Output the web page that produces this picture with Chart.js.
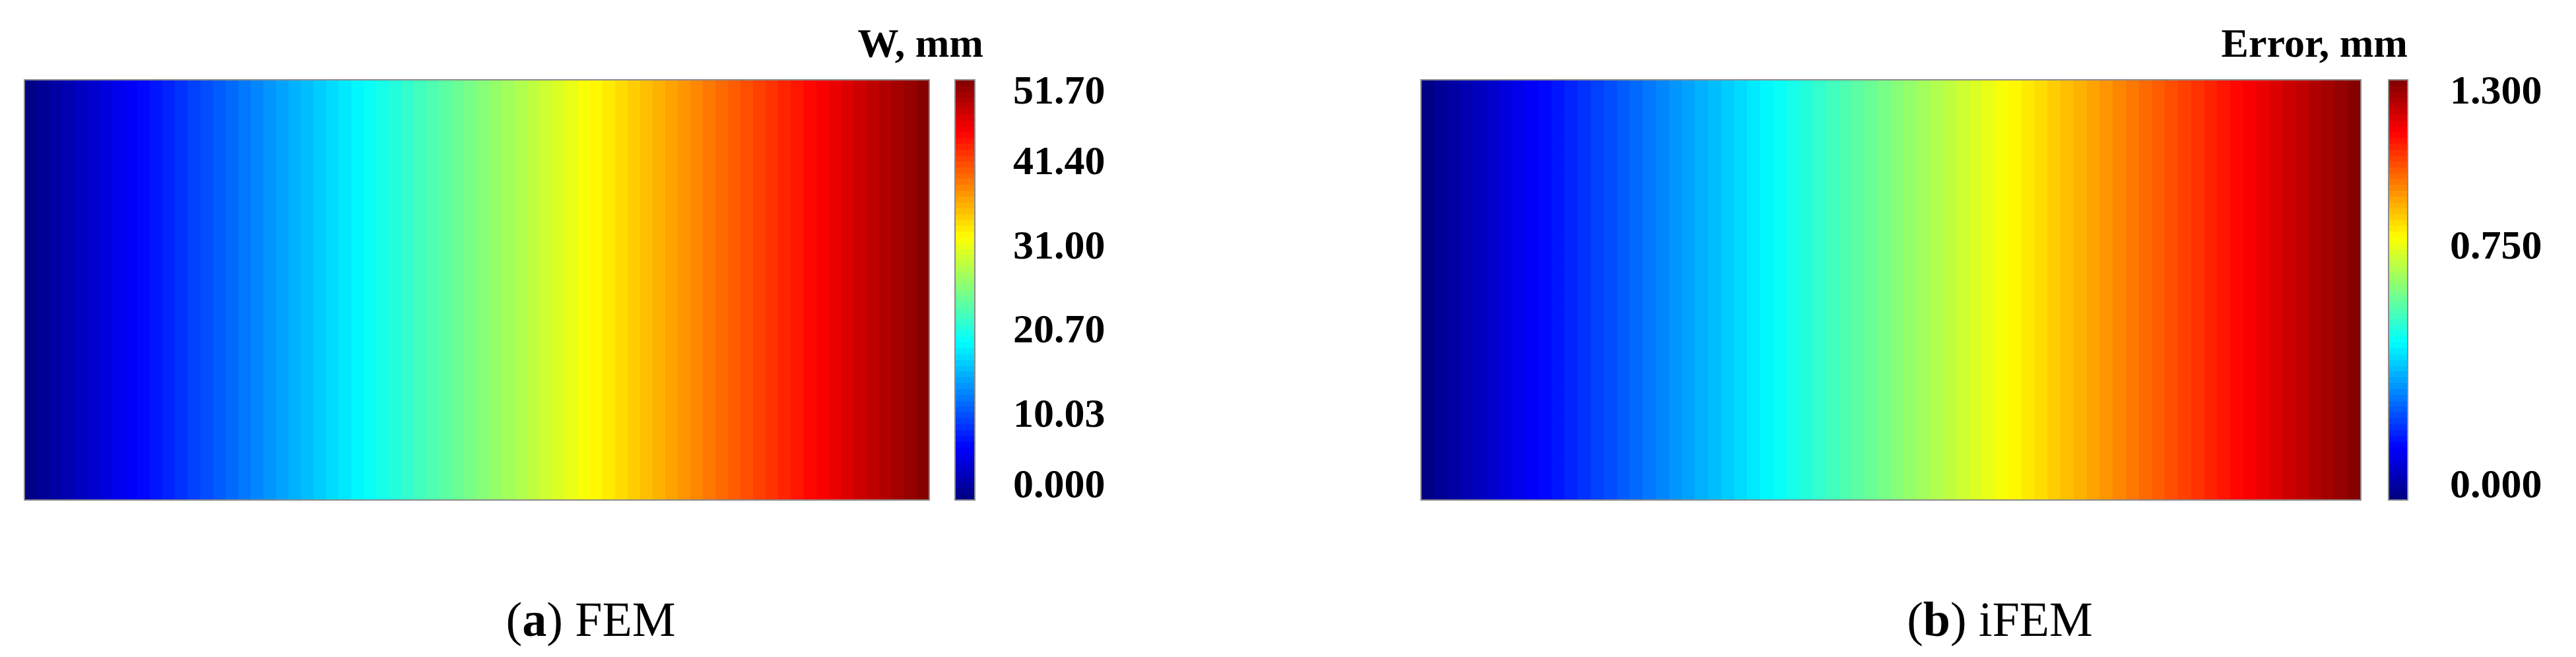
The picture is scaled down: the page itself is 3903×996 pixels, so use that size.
<!DOCTYPE html>
<html>
<head>
<meta charset="utf-8">
<script src="https://cdn.jsdelivr.net/npm/chart.js@4.4.1/dist/chart.umd.min.js"></script>
<style>
  body { margin:0; background:#fff; width:3903px; height:996px; position:relative; overflow:hidden;
         font-family:"Liberation Serif","Times New Roman",serif; }
  canvas, .txt { position:absolute; }
  .ttl { font-weight:bold; font-size:62px; line-height:62px; white-space:nowrap; }
  .cap { font-size:74px; line-height:74px; white-space:nowrap; transform:translateX(-50%); }
</style>
</head>
<body>
<canvas id="plotA" width="1375" height="641" style="left:35px;top:119px"></canvas>
<canvas id="cbarA" width="299" height="857" style="left:1438px;top:11px"></canvas>
<canvas id="plotB" width="1428" height="641" style="left:2151px;top:119px"></canvas>
<canvas id="cbarB" width="298" height="857" style="left:3610px;top:11px"></canvas>

<div class="txt ttl" id="ttlA" style="right:calc(3903px - 1490px);top:34px"></div>
<div class="txt ttl" id="ttlB" style="right:calc(3903px - 3648px);top:34px"></div>
<div class="txt cap" id="capA" style="left:895px;top:902px"></div>
<div class="txt cap" id="capB" style="left:3030px;top:902px"></div>

<script>
// datos
const plateX = [0, 1];               // posicion a lo largo de la placa (normalizada)
const wFEM = [0, 51.70];             // W, mm en los extremos
const errIFEM = [0, 1.300];          // error, mm en los extremos
const levels = [0, 1, 2, 3, 4, 5];   // divisiones de la barra de color
const tickLevels = [1, 2, 3, 4];
const labelsW = ['0.000', '10.03', '20.70', '31.00', '41.40', '51.70'];
const labelsErr = ['0.000', '', '', '0.750', '', '1.300'];
const cbarTitles = ['W, mm', 'Error, mm'];
const captionTags = ['a', 'b'];
const captionNames = ['FEM', 'iFEM'];

const FONT = '"Liberation Serif", "Times New Roman", serif';
const NBANDS = 72;

document.getElementById('ttlA').textContent = cbarTitles[0];
document.getElementById('ttlB').textContent = cbarTitles[1];
['capA', 'capB'].forEach((id, i) => {
  const el = document.getElementById(id);
  el.innerHTML = '(<b>' + captionTags[i] + '</b>) ' + captionNames[i];
});

// jet colormap
function clamp(v) { return Math.max(0, Math.min(1, v)); }
function jet(t) {
  const r = clamp(Math.min(4*t - 1.5, -4*t + 4.5));
  const g = clamp(Math.min(4*t - 0.5, -4*t + 3.5));
  const b = clamp(Math.min(4*t + 0.5, -4*t + 2.5));
  return 'rgb(' + Math.round(r*255) + ',' + Math.round(g*255) + ',' + Math.round(b*255) + ')';
}
function interp(xs, ys, x) {
  for (let i = 1; i < xs.length; i++) {
    if (x <= xs[i]) {
      const f = (x - xs[i-1]) / (xs[i] - xs[i-1]);
      return ys[i-1] + f * (ys[i] - ys[i-1]);
    }
  }
  return ys[ys.length - 1];
}

// degradado por bandas (como un contorno)
function bandGradient(ctx, x0, y0, x1, y1, colorAt) {
  const g = ctx.createLinearGradient(x0, y0, x1, y1);
  for (let i = 0; i < NBANDS; i++) {
    const c = colorAt((i + 0.5) / NBANDS);
    g.addColorStop(i / NBANDS, c);
    g.addColorStop(Math.min(1, (i + 1) / NBANDS - 0.0001), c);
  }
  return g;
}

const framePlugin = {
  id: 'frame',
  afterDatasetsDraw(chart) {
    const a = chart.chartArea, ctx = chart.ctx;
    ctx.save();
    ctx.strokeStyle = '#8c8c8c';
    ctx.lineWidth = 2;
    ctx.strokeRect(a.left, a.top, a.right - a.left, a.bottom - a.top);
    ctx.restore();
  }
};

function drawField(id, values) {
  const vmax = values[values.length - 1];
  new Chart(document.getElementById(id), {
    type: 'line',
    data: {
      datasets: [{
        data: plateX.map(x => ({x: x, y: 1})),
        fill: 'origin',
        borderWidth: 0,
        pointRadius: 0,
        backgroundColor: (c) => {
          const a = c.chart.chartArea;
          if (!a) return 'rgba(0,0,0,0)';
          return bandGradient(c.chart.ctx, a.left, 0, a.right, 0,
            t => jet(interp(plateX, values, t) / vmax));
        }
      }]
    },
    options: {
      responsive: false,
      animation: false,
      layout: { padding: 2 },
      plugins: { legend: { display: false }, tooltip: { enabled: false } },
      scales: {
        x: { type: 'linear', display: false, min: 0, max: 1 },
        y: { display: false, min: 0, max: 1 }
      }
    },
    plugins: [framePlugin]
  });
}

function drawColorbar(id, labels, pad) {
  const top = levels[levels.length - 1];
  new Chart(document.getElementById(id), {
    type: 'line',
    data: {
      datasets: [{
        data: [{x: 0, y: top}, {x: 1, y: top}],
        fill: 'origin',
        borderWidth: 0,
        pointRadius: 0,
        backgroundColor: (c) => {
          const a = c.chart.chartArea;
          if (!a) return 'rgba(0,0,0,0)';
          return bandGradient(c.chart.ctx, 0, a.bottom, 0, a.top, t => jet(t));
        }
      }, {
        // marcas de las divisiones
        data: tickLevels.map(v => ({x: 1, y: v})),
        showLine: false,
        pointStyle: 'line',
        pointRadius: 7,
        pointBorderWidth: 2,
        pointBorderColor: '#222',
        clip: 0
      }]
    },
    options: {
      responsive: false,
      animation: false,
      layout: { padding: { left: 2, right: 0, top: 110, bottom: 110 } },
      plugins: { legend: { display: false }, tooltip: { enabled: false } },
      scales: {
        x: { type: 'linear', display: false, min: 0, max: 1 },
        y: {
          position: 'right',
          min: 0, max: top,
          afterBuildTicks: (s) => { s.ticks = levels.map(v => ({value: v})); },
          afterFit: (s) => { s.width = 260; },
          grid: { display: false, drawTicks: false },
          border: { display: false },
          ticks: {
            padding: pad,
            color: '#000',
            font: { family: FONT, size: 62, weight: 'bold', lineHeight: '40px' },
            callback: (v, i) => {
              const t = labels[i];
              if (i === levels.length - 1) return ['', t];
              if (i === 0) return [t, ''];
              return t;
            }
          }
        }
      }
    },
    plugins: [framePlugin]
  });
}

drawField('plotA', wFEM);
drawField('plotB', errIFEM);
drawColorbar('cbarA', labelsW, 58);
drawColorbar('cbarB', labelsErr, 64);
</script>
</body>
</html>
